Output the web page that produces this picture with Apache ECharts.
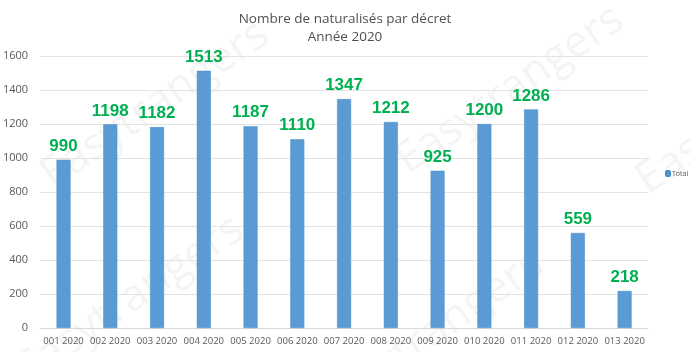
<!DOCTYPE html>
<html><head><meta charset="utf-8">
<script src="https://cdn.jsdelivr.net/npm/echarts@6/dist/echarts.min.js"></script>
<style>html,body{margin:0;padding:0;background:#fff}#c{width:690px;height:352px}</style>
</head><body><div id="c"></div>
<script>
var categories = ["001 2020","002 2020","003 2020","004 2020","005 2020","006 2020","007 2020","008 2020","009 2020","010 2020","011 2020","012 2020","013 2020"];
var totals = [990,1198,1182,1513,1187,1110,1347,1212,925,1200,1286,559,218];
var yTicks = {min:0, max:1600, interval:200};
var titleLines = ["Nombre de naturalisés par décret","Année 2020"];
var seriesName = "Total";
var watermarkText = "Easytrangers";

var wmPositions = [[155,105],[510,90],[750,110],[130,300],[430,335]];
var graphics = wmPositions.map(function(p){
  return {type:'text', x:p[0], y:p[1], rotation:0.6, z:-10, silent:true,
    style:{text:watermarkText, fill:'rgba(0,0,0,0.045)', font:'44px "Open Sans"', textAlign:'center', textVerticalAlign:'middle'}};
});

var chart = echarts.init(document.getElementById('c'), null, {renderer:'canvas'});
chart.setOption({
  animation:false,
  backgroundColor:'#ffffff',
  graphic: graphics,
  title:{
    text: titleLines.join('\n'),
    left:'center', top:5,
    textStyle:{fontFamily:'Open Sans', fontSize:13.5, fontWeight:'normal', color:'#505050', lineHeight:18}
  },
  legend:{
    data:[seriesName], orient:'vertical', left:660, top:165,
    itemWidth:4, itemHeight:5, itemGap:2,
    textStyle:{fontFamily:'Open Sans', fontSize:7, color:'#595959', padding:[0,0,0,-3]}
  },
  grid:{left:40, right:42, top:56, bottom:24, containLabel:false},
  xAxis:{
    type:'category', data:categories,
    axisLine:{lineStyle:{color:'#d9d9d9'}},
    axisTick:{show:false},
    axisLabel:{interval:0, fontFamily:'Open Sans', fontSize:9.5, color:'#595959', margin:8}
  },
  yAxis:{
    type:'value', min:yTicks.min, max:yTicks.max, interval:yTicks.interval,
    axisLine:{show:false}, axisTick:{show:false},
    splitLine:{lineStyle:{color:'#e3e3e3'}},
    axisLabel:{fontFamily:'Open Sans', fontSize:11, color:'#595959', margin:12, formatter:function(v){return String(v);}}
  },
  series:[{
    name:seriesName, type:'bar', data:totals, barWidth:14,
    itemStyle:{color:'#5b9bd5', borderColor:'#4a8ccb', borderWidth:0.5},
    label:{show:true, position:'top', distance:5, fontFamily:'Liberation Sans', fontWeight:'bold', fontSize:17, color:'#00b050'}
  }]
});
</script></body></html>
